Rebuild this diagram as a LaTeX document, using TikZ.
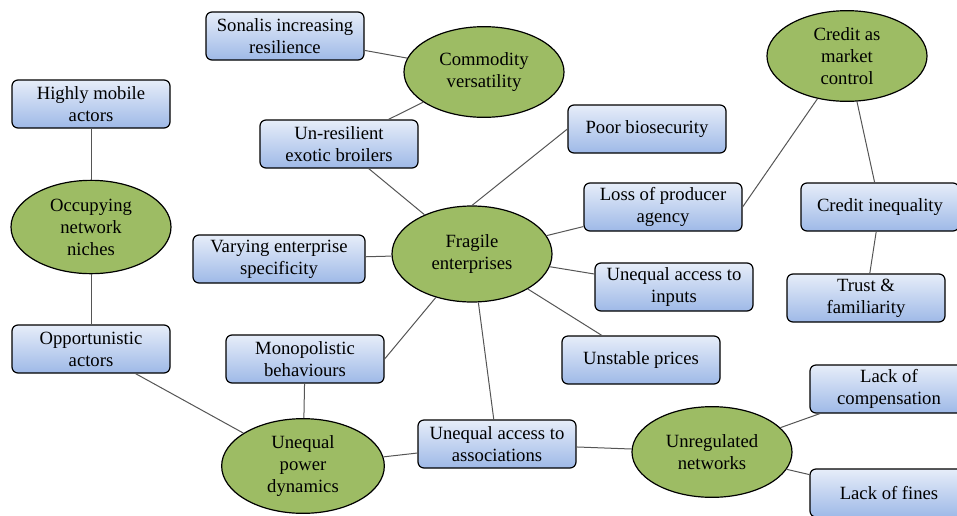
\documentclass[tikz,border=0pt]{standalone}
\usepackage{fontspec}
\setmainfont{Liberation Serif}
\usetikzlibrary{shapes.geometric}

\definecolor{boxtop}{RGB}{230,237,249}
\definecolor{boxbot}{RGB}{158,185,231}
\definecolor{themegreen}{RGB}{157,188,100}
\definecolor{linkgray}{RGB}{85,85,85}

\begin{document}
\begin{tikzpicture}[x=0.75pt,y=0.75pt,yscale=-1,xscale=1,
  factor/.style={draw=black, line width=0.9pt, rounded corners=4.5pt,
    top color=boxtop, bottom color=boxbot, align=center,
    minimum width=118.5pt, minimum height=36pt, inner sep=2pt,
    font=\fontsize{14}{16.5}\selectfont},
  theme/.style={ellipse, draw=black, line width=0.9pt, fill=themegreen,
    align=center, inner sep=0pt, minimum width=120pt, minimum height=68pt,
    font=\fontsize{14}{16.5}\selectfont},
  link/.style={draw=linkgray, line width=0.75pt}]
\useasboundingbox (0,0) rectangle (957,515);

% Themes
\node [theme] (commodity) at (484,72) {Commodity\\versatility};
\node [theme, minimum height=68pt] (creditctl) at (847,56) {Credit as\\market\\control};
\node [theme, minimum height=70pt] (niches) at (91,227) {Occupying\\network\\niches};
\node [theme, minimum height=72pt] (fragile) at (472,254) {Fragile\\enterprises};
\node [theme, minimum width=122pt, minimum height=71pt] (power) at (303,466) {Unequal\\power\\dynamics};
\node [theme] (unregulated) at (712,452) {Unregulated\\networks};

% Factors
\node [factor] (sonalis) at (285,36) {Sonalis increasing\\resilience};
\node [factor] (mobile) at (91,104) {Highly mobile\\actors};
\node [factor] (broilers) at (339,144) {Un-resilient\\exotic broilers};
\node [factor] (biosec) at (647,129) {Poor biosecurity};
\node [factor] (agency) at (663,207) {Loss of producer\\agency};
\node [factor] (crineq) at (880,207) {Credit inequality};
\node [factor, minimum width=129pt] (varying) at (279,259) {Varying enterprise\\specificity};
\node [factor] (inputs) at (674,287) {Unequal access to\\inputs};
\node [factor] (trust) at (866,298) {Trust \&\\familiarity};
\node [factor] (opport) at (91,349) {Opportunistic\\actors};
\node [factor] (monopol) at (305,359) {Monopolistic\\behaviours};
\node [factor] (prices) at (641,360) {Unstable prices};
\node [factor] (compens) at (889,389) {Lack of\\compensation};
\node [factor] (assoc) at (497,444) {Unequal access to\\associations};
\node [factor] (fines) at (889,493) {Lack of fines};

% Links
\draw [link] (sonalis) -- (commodity);
\draw [link] (commodity) -- (broilers);
\draw [link] (mobile) -- (niches);
\draw [link] (niches) -- (opport);
\draw [link] (opport) -- (power);
\draw [link] (broilers) -- (fragile);
\draw [link] (biosec.west) -- (fragile.north);
\draw [link] (fragile) -- (agency);
\draw [link] (agency.east) -- (creditctl);
\draw [link] (creditctl) -- (crineq);
\draw [link] (crineq) -- (trust);
\draw [link] (fragile) -- (varying);
\draw [link] (fragile) -- (inputs);
\draw [link] (fragile) -- (prices);
\draw [link] (fragile) -- (monopol.east);
\draw [link] (fragile) -- (assoc);
\draw [link] (monopol) -- (power);
\draw [link] (power) -- (assoc);
\draw [link] (assoc) -- (unregulated);
\draw [link] (unregulated) -- (compens);
\draw [link] (unregulated) -- (fines);

\end{tikzpicture}
\end{document}
